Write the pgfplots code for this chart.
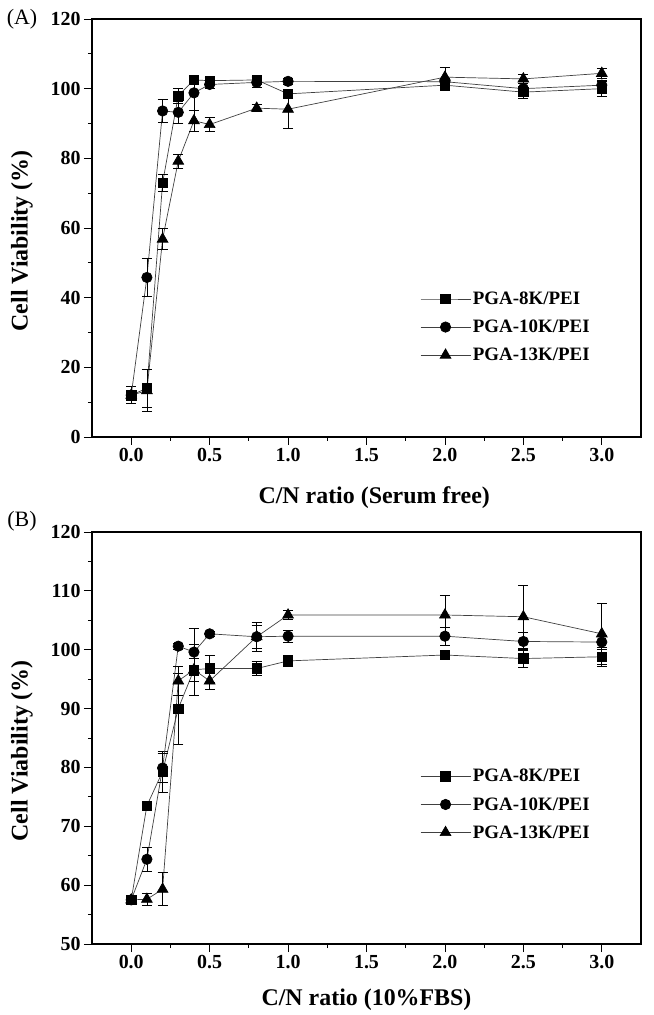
\documentclass[border=0pt]{standalone}
\usepackage{fontspec}
\setmainfont{Liberation Serif}
\usepackage{pgfplots}
\pgfplotsset{compat=1.18}

\pgfplotstableread{
x y e
0   12.0 2.4
0.1 14.0 5.5
0.2 72.9 2.5
0.3 98.0 2.2
0.4 102.5 1.0
0.5 102.3 1.0
0.8 102.5 1.0
1.0 98.5 1.2
2.0 101.0 1.0
2.5 99.0 1.8
3.0 100.0 2.2
}\Asq
\pgfplotstableread{
x y e
0   12.0 1.5
0.1 45.8 5.4
0.2 93.6 3.4
0.3 93.2 3.3
0.4 98.8 5.0
0.5 101.2 1.2
0.8 101.8 1.5
1.0 102.1 0.8
2.0 102.0 1.0
2.5 100.0 1.5
3.0 101.0 1.5
}\Aci
\pgfplotstableread{
x y e
0   12.0 1.5
0.1 13.3 6.0
0.2 56.8 3.0
0.3 79.2 2.0
0.4 90.8 3.0
0.5 89.7 2.0
0.8 94.4 1.0
1.0 94.1 5.5
2.0 103.3 2.7
2.5 102.8 1.2
3.0 104.4 1.4
}\Atr
\pgfplotstableread{
x y e
0   57.5 0.8
0.1 73.5 0.5
0.2 79.3 3.5
0.3 90.0 6.0
0.4 96.6 2.0
0.5 96.8 2.3
0.8 96.8 1.2
1.0 98.1 1.0
2.0 99.1 0.8
2.5 98.5 1.5
3.0 98.8 1.6
}\Bsq
\pgfplotstableread{
x y e
0   57.5 0.8
0.1 64.4 2.0
0.2 79.9 2.5
0.3 100.6 0.5
0.4 99.6 4.0
0.5 102.7 0.5
0.8 102.2 2.0
1.0 102.3 1.0
2.0 102.3 1.5
2.5 101.4 1.5
3.0 101.3 1.2
}\Bci
\pgfplotstableread{
x y e
0   57.5 0.8
0.1 57.6 1.0
0.2 59.3 2.8
0.3 94.7 2.5
0.4 96.6 4.3
0.5 94.7 1.5
0.8 102.2 2.5
1.0 105.9 0.8
2.0 105.9 3.4
2.5 105.6 5.3
3.0 102.7 5.2
}\Btr

\pgfplotsset{
  myaxis/.style={
    scale only axis, width=549bp,
    xmin=-0.25, xmax=3.25,
    xtick={0,0.5,1,1.5,2,2.5,3}, minor x tick num=1,
    minor y tick num=1,
    tick align=outside, xtick pos=bottom, ytick pos=left,
    major tick length=8bp, minor tick length=4bp,
    tick style={black, line width=0.8pt},
    axis line style={line width=1.2pt},
    /pgf/number format/assume math mode=true,
    ticklabel style={font=\fontsize{20}{20}\selectfont\bfseries},
    xticklabel={\pgfmathprintnumber[fixed,fixed zerofill,precision=1]{\tick}},
    label style={font=\fontsize{24}{24}\selectfont\bfseries},
    ylabel={Cell Viability (\%)},
    ylabel style={at={(axis description cs:-0.1275,0.469)}, anchor=center},
    legend cell align=left,
    legend style={draw=none, fill=none, font=\fontsize{19}{19}\selectfont\bfseries,
      anchor=north west, row sep=10bp},
    legend image code/.code={\draw[mark repeat=2,mark phase=2,##1] plot coordinates {(0bp,0bp) (25bp,0bp) (50bp,0bp)};},
    error bars/y dir=both, error bars/y explicit,
    error bars/error bar style={black, line width=0.7pt},
    error bars/error mark options={rotate=90, mark size=5bp, black, line width=0.7pt},
  },
  s8/.style={color=black!75, line width=0.7pt, mark=square*, mark size=4.7bp, mark options={fill=black, draw=black, solid}},
  s10/.style={color=black!75, line width=0.7pt, mark=*, mark size=5.2bp, mark options={fill=black, draw=black, solid}},
  s13/.style={color=black!75, line width=0.7pt, mark=triangle*, mark size=6.2bp, mark options={fill=black, draw=black, solid}},
}

\begin{document}
\begin{tikzpicture}
\path[use as bounding box] (0,0) rectangle (654bp,1015bp);
\begin{axis}[myaxis, at={(92bp,578bp)}, anchor=south west, height=418bp,
  ymin=0, ymax=120, ytick={0,20,...,120},
  xlabel={C/N ratio (Serum free)},
  xlabel style={at={(axis description cs:0.514,-0.146)}, anchor=center},
  legend style={at={(axis description cs:0.592,0.357)}}]
\addplot[s8] table[x=x,y=y,y error=e]{\Asq};
\addplot[s10] table[x=x,y=y,y error=e]{\Aci};
\addplot[s13] table[x=x,y=y,y error=e]{\Atr};
\legend{PGA-8K/PEI,PGA-10K/PEI,PGA-13K/PEI}
\end{axis}
\begin{axis}[myaxis, at={(92bp,71bp)}, anchor=south west, height=412bp,
  ymin=50, ymax=120, ytick={50,60,...,120},
  xlabel={C/N ratio (10\%FBS)},
  xlabel style={at={(axis description cs:0.50,-0.136)}, anchor=center},
  legend style={at={(axis description cs:0.592,0.434)}}]
\addplot[s8] table[x=x,y=y,y error=e]{\Bsq};
\addplot[s10] table[x=x,y=y,y error=e]{\Bci};
\addplot[s13] table[x=x,y=y,y error=e]{\Btr};
\legend{PGA-8K/PEI,PGA-10K/PEI,PGA-13K/PEI}
\end{axis}
\node[font=\fontsize{22}{22}\selectfont] at (22bp,996bp) {(A)};
\node[font=\fontsize{22}{22}\selectfont] at (22bp,494bp) {(B)};
\end{tikzpicture}
\end{document}
